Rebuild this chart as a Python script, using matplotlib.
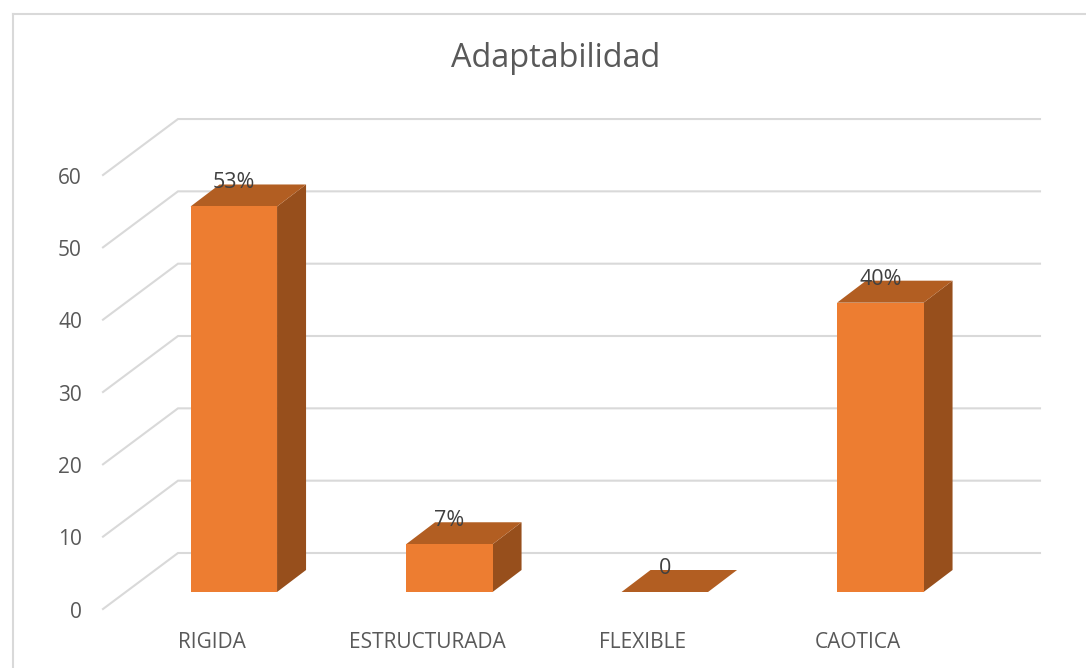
import matplotlib
matplotlib.use("Agg")
import matplotlib.pyplot as plt
from matplotlib.patches import Polygon

categories = ["RIGIDA", "ESTRUCTURADA", "FLEXIBLE", "CAOTICA"]
values = [53.3, 6.6, 0, 40]
value_labels = ["53%", "7%", "0", "40%"]
y_ticks = [0, 10, 20, 30, 40, 50, 60]
title = "Adaptabilidad"

FONT = "Open Sans"
W, H = 1086, 668
PX_PER_UNIT = 7.233
PX_PER_CAT = 215.5
ZERO_PX_Y = 592.0
CAT0_PX_X = 233.8

fig = plt.figure(figsize=(W / 100, H / 100), dpi=100, facecolor="white")
ax = fig.add_axes([0, 0, 1, 1])
ax.set_xlim(-CAT0_PX_X / PX_PER_CAT, (W - CAT0_PX_X) / PX_PER_CAT)
ax.set_ylim((ZERO_PX_Y - H) / PX_PER_UNIT, ZERO_PX_Y / PX_PER_UNIT)
ax.axis("off")


def dx(px):
    return px / PX_PER_CAT


def dy(px):
    return px / PX_PER_UNIT


# chart frame (in figure pixels)
fig.add_artist(plt.Line2D([12.5 / W, 12.5 / W], [0, 1 - 14 / H], color="#d9d9d9", lw=1.5))
fig.add_artist(plt.Line2D([12.5 / W, 1], [1 - 14 / H, 1 - 14 / H], color="#d9d9d9", lw=1.5))

# gridlines: front stub, oblique floor/wall, back wall
front_x = dx(103 - CAT0_PX_X)
back_x = dx(178 - CAT0_PX_X)
end_x = dx(1040 - CAT0_PX_X)
front_off = dy(592 - 609)
back_off = dy(592 - 553)
for v in y_ticks:
    ax.plot([front_x, back_x, end_x],
            [v + front_off, v + back_off, v + back_off],
            color="#d9d9d9", lw=1.5, solid_joinstyle="miter", zorder=1)
    ax.text(dx(82 - CAT0_PX_X), v + front_off - dy(3), str(v), ha="right", va="center",
            fontsize=15, color="#595959", family=FONT)

# bars with oblique top and side faces
x_pos = list(range(len(categories)))
bar_w = dx(86.5)
d_x, d_y = dx(29), dy(22)
for x, v, lab, cat in zip(x_pos, values, value_labels, categories):
    l, r = x - bar_w / 2, x + bar_w / 2
    ax.add_patch(Polygon([(r, 0), (r + d_x, d_y), (r + d_x, v + d_y), (r, v)],
                         fc="#974F1C", ec="none", zorder=3))
    ax.add_patch(Polygon([(l, v), (r, v), (r + d_x, v + d_y), (l + d_x, v + d_y)],
                         fc="#B25E22", ec="none", zorder=3))
    if v > 0:
        ax.bar(x, v, width=bar_w, color="#ED7D31", zorder=4)
    ax.text(x, v + dy(23.5), lab, ha="center", va="center",
            fontsize=15.5, color="#404040", family=FONT, zorder=6)
    ax.text(x + dx(-22), dy(592 - 642), cat, ha="center", va="center",
            fontsize=15, color="#595959", family=FONT, zorder=6)

ax.text(dx(556 - CAT0_PX_X), dy(592 - 58.5), title, ha="center", va="center",
        fontsize=23.4, color="#595959", family=FONT)

fig.savefig("out.png", dpi=100, facecolor="white")
